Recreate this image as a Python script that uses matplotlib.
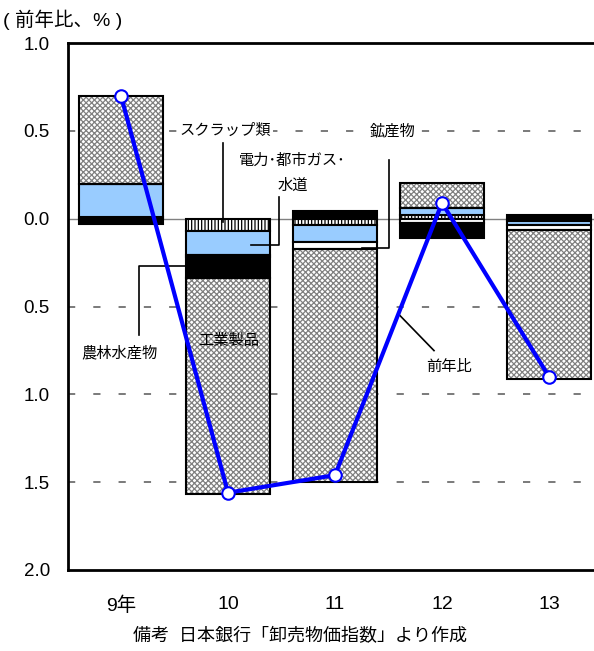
import matplotlib
matplotlib.use("Agg")
import matplotlib.pyplot as plt
import numpy

plt.rcParams['font.family'] = ['Liberation Sans', 'Noto Sans CJK JP', 'DejaVu Sans']
plt.rcParams['hatch.linewidth'] = 0.9

# 卸売物価指数 前年比寄与度 (%)
years = ['9年', '10', '11', '12', '13']
scrap      = [0.01, -0.07, -0.035, 0.02, -0.015]    # スクラップ類
elec       = [0.185, -0.135, -0.10, 0.043, -0.02]   # 電力・都市ガス・水道
mineral    = [0.005, -0.015, -0.035, -0.025, -0.03] # 鉱産物
agri       = [-0.03, -0.115, 0.045, -0.085, 0.02]   # 農林水産物
industrial = [0.50, -1.23, -1.33, 0.142, -0.85]     # 工業製品
total      = [0.70, -1.56, -1.46, 0.09, -0.90]      # 前年比

y_ticks = [1.0, 0.5, 0.0, -0.5, -1.0, -1.5, -2.0]
y_labels = ['1.0', '0.5', '0.0', '0.5', '1.0', '1.5', '2.0']

x = numpy.arange(len(years))
w = 0.79

fig = plt.figure(figsize=(5.94, 6.51), dpi=100)
ax = fig.add_axes([68/594, 1-570/651, 526/594, 527/651])
ax.set_xlim(-0.495, 4.42)
ax.set_ylim(-2.0, 1.0)

# grid
for g in [0.5, -0.5, -1.0, -1.5]:
    ax.axhline(g, color='#707070', lw=1.3, ls=(0, (4, 10)), zorder=0)
ax.axhline(0, color='#808080', lw=1.0, zorder=0)

pos = numpy.zeros(len(x))
neg = numpy.zeros(len(x))
segs = [
    (scrap, 'white', '|||||', 'black'),
    (elec, '#99CCFF', None, None),
    (mineral, 'white', None, None),
    (agri, 'black', None, None),
    (industrial, 'white', 'xxxxxx', '#808080'),
]
for vals, fc, hatch, hc in segs:
    vals = numpy.array(vals)
    bottom = numpy.where(vals >= 0, pos, neg)
    if hatch:
        ax.bar(x, vals, w, bottom=bottom, color=fc, edgecolor=hc, hatch=hatch, lw=0, zorder=2)
        ax.bar(x, vals, w, bottom=bottom, fill=False, edgecolor='black', lw=1.5, zorder=3)
    else:
        ax.bar(x, vals, w, bottom=bottom, color=fc, edgecolor='black', lw=1.5, zorder=3)
    pos = pos + numpy.where(vals >= 0, vals, 0)
    neg = neg + numpy.where(vals < 0, vals, 0)

ax.plot(x, total, color='#0000FF', lw=3, marker='o', ms=9, mfc='white',
        mec='#0000FF', mew=1.5, zorder=5)

# leader lines and labels
lk = dict(color='black', lw=1.2, zorder=4)
tk = dict(fontsize=11, ha='center', va='center', zorder=6)
bg = dict(facecolor='white', edgecolor='none', pad=1)

ax.plot([0.953, 0.953], [0.433, -0.017], **lk)
ax.text(0.977, 0.50, 'スクラップ類', bbox=bg, **tk)

ax.plot([1.477, 1.477, 1.215], [0.125, -0.152, -0.152], **lk)
ax.text(1.60, 0.33, '電力･都市ガス･', **tk)
ax.text(1.61, 0.188, '水道', **tk)

ax.plot([2.505, 2.505, 2.25], [0.336, -0.165, -0.165], **lk)
ax.text(2.54, 0.50, '鉱産物', bbox=bg, **tk)

ax.plot([0.168, 0.168, 0.617], [-0.66, -0.268, -0.268], **lk)
ax.text(-0.014, -0.763, '農林水産物', **tk)

ax.text(1.01, -0.694, '工業製品', **tk)

ax.plot([2.598, 2.925], [-0.546, -0.751], **lk)
ax.text(3.065, -0.842, '前年比', **tk)

ax.set_xticks(x)
ax.set_xticklabels(years, fontsize=14)
ax.set_yticks(y_ticks)
ax.set_yticklabels(y_labels, fontsize=13.5)
ax.tick_params(axis='both', length=0)
ax.tick_params(axis='x', pad=19)
ax.tick_params(axis='y', pad=13)

for s in ['top', 'left', 'bottom']:
    ax.spines[s].set_linewidth(2)
ax.spines['right'].set_visible(False)

fig.text(3/594, 1-20/651, '( 前年比、% )', fontsize=14, va='center', ha='left')
fig.text(300/594, 1-637/651, '備考  日本銀行「卸売物価指数」より作成', fontsize=13,
         va='center', ha='center')

fig.savefig('out.png', dpi=100)
